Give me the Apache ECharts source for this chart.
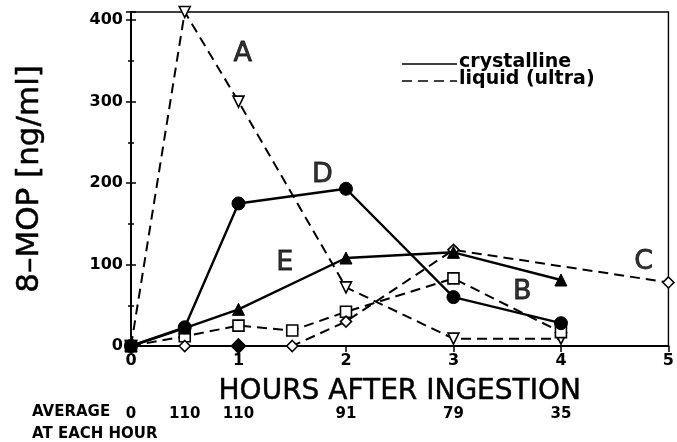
<!DOCTYPE html>
<html>
<head>
<meta charset="utf-8">
<script src="https://cdn.jsdelivr.net/npm/echarts@6/dist/echarts.min.js"></script>
<style>
  html, body { margin: 0; padding: 0; background: #fff; }
  #chart { width: 677px; height: 442px; }
</style>
</head>
<body>
<div id="chart"></div>
<script>
// curve A - liquid, open triangles
var hoursA = [0, 0.5, 1, 2, 3, 4];
var concA = [0, 410, 300, 72, 9, 9];
// curve B - liquid, open squares
var hoursB = [0, 0.5, 1, 1.5, 2, 3, 4];
var concB = [0, 12, 25, 19, 42, 83, 17];
// curve C - liquid, open diamonds
var hoursC = [0, 0.5, 1, 1.5, 2, 3, 5];
var concC = [0, 0, 0, 0, 30, 118, 78];
// curve D - crystalline, filled circles
var hoursD = [0, 0.5, 1, 2, 3, 4];
var concD = [0, 23, 175, 193, 60, 28];
// curve E - crystalline, filled triangles
var hoursE = [0, 0.5, 1, 2, 3, 4];
var concE = [0, 22, 45, 108, 115, 81];

// curve letters
var letterNames = ['A', 'B', 'C', 'D', 'E'];
var letterX = [1.04, 3.64, 4.77, 1.78, 1.43];
var letterY = [358, 66, 103, 210, 102];

// average row under the axis
var avgHours = [0, 0.5, 1, 2, 3, 4];
var avgValues = ['0', '110', '110', '91', '79', '35'];

var yTicks = [0, 100, 200, 300, 400];

function pairs(xs, ys) {
  return xs.map(function (x, i) { return [x, ys[i]]; });
}

var chart = echarts.init(document.getElementById('chart'));

var dashed = {color: '#000', width: 2, type: [10, 6]};
var solid = {color: '#000', width: 2.4};
var openItem = {color: '#fff', borderColor: '#000', borderWidth: 1.6};
var fillItem = {color: '#000', borderColor: '#000', borderWidth: 1};

var dataC = pairs(hoursC, concC).map(function (p) {
  // the point at 1 h is drawn filled in the original
  if (p[0] === 1) return {value: p, symbolSize: 14, itemStyle: {color: '#000', borderColor: '#000', borderWidth: 1.6}};
  return p;
});

var option = {
  backgroundColor: '#fff',
  animation: false,
  grid: {left: 131, right: 4, top: 12, bottom: 96, show: true, borderColor: '#000', borderWidth: 1.4, backgroundColor: 'transparent'},
  xAxis: [{
    type: 'value', min: 0, max: 5, interval: 1,
    axisLine: {show: true, onZero: false, lineStyle: {color: '#000', width: 2}},
    axisTick: {show: true, length: 6, lineStyle: {color: '#000', width: 1.5}},
    splitLine: {show: false},
    axisLabel: {color: '#000', fontFamily: 'DejaVu Sans', fontWeight: 'bold', fontSize: 16, margin: 7},
    name: 'HOURS AFTER INGESTION', nameLocation: 'middle', nameGap: 32,
    nameTextStyle: {color: '#000', fontFamily: 'DejaVu Sans', fontSize: 28, textBorderColor: '#000', textBorderWidth: 0.5}
  }, {
    type: 'value', min: 0, max: 5, interval: 0.5, position: 'bottom',
    axisLine: {show: false}, axisTick: {show: false}, splitLine: {show: false},
    axisLabel: {
      color: '#000', fontFamily: 'DejaVu Sans', fontWeight: 'bold', fontSize: 15, margin: 61,
      formatter: function (v) {
        var i = avgHours.indexOf(v);
        return i >= 0 ? avgValues[i] : '';
      }
    }
  }],
  yAxis: [{
    type: 'value', min: 0, max: 410, interval: 100,
    axisLine: {show: true, lineStyle: {color: '#000', width: 2}},
    axisTick: {show: true, length: 5, lineStyle: {color: '#000', width: 1.5}},
    minorTick: {show: true, splitNumber: 2, length: 3, lineStyle: {color: '#000', width: 1.5}},
    splitLine: {show: false},
    axisLabel: {color: '#000', fontFamily: 'DejaVu Sans', fontWeight: 'bold', fontSize: 16, margin: 8, showMaxLabel: false,
      formatter: function (v) { return yTicks.indexOf(v) >= 0 ? String(v) : ''; }},
    name: '8\u2013MOP [ng/ml]', nameLocation: 'middle', nameGap: 86, nameRotate: 90,
    nameTextStyle: {color: '#000', fontFamily: 'DejaVu Sans', fontSize: 31, textBorderColor: '#000', textBorderWidth: 0.5}
  }, {
    type: 'value', min: 0, max: 410, interval: 100, position: 'left',
    axisLine: {show: false},
    axisTick: {show: true, inside: true, length: 5, lineStyle: {color: '#000', width: 1.5}},
    minorTick: {show: true, splitNumber: 2, length: 3, lineStyle: {color: '#000', width: 1.5}},
    splitLine: {show: false}, axisLabel: {show: false}
  }],
  graphic: [
    {type: 'line', shape: {x1: 402, y1: 64, x2: 457, y2: 64}, style: {stroke: '#000', lineWidth: 1.6}},
    {type: 'line', shape: {x1: 402, y1: 81, x2: 457, y2: 81}, style: {stroke: '#000', lineWidth: 1.6, lineDash: [10, 6]}},
    {type: 'text', left: 459, top: 53, style: {text: 'crystalline', fill: '#000', font: 'bold 19px "DejaVu Sans"'}},
    {type: 'text', left: 459, top: 70, style: {text: 'liquid (ultra)', fill: '#000', font: 'bold 19px "DejaVu Sans"'}},
    {type: 'text', left: 32, top: 405, style: {text: 'AVERAGE', fill: '#000', font: 'bold 15px "DejaVu Sans"'}},
    {type: 'text', left: 32, top: 427, style: {text: 'AT EACH HOUR', fill: '#000', font: 'bold 15px "DejaVu Sans"'}}
  ],
  series: [
    {name: 'A', type: 'line', data: pairs(hoursA, concA), symbol: 'triangle', symbolRotate: 180, symbolSize: 11,
      lineStyle: dashed, itemStyle: openItem, z: 3},
    {name: 'B', type: 'line', data: pairs(hoursB, concB), symbol: 'rect', symbolSize: 11,
      lineStyle: dashed, itemStyle: openItem, z: 3},
    {name: 'C', type: 'line', data: dataC, symbol: 'diamond', symbolSize: 11,
      lineStyle: dashed, itemStyle: openItem, z: 3},
    {name: 'D', type: 'line', data: pairs(hoursD, concD), symbol: 'circle', symbolSize: 13,
      lineStyle: solid, itemStyle: fillItem, z: 4},
    {name: 'E', type: 'line', data: pairs(hoursE, concE), symbol: 'triangle', symbolSize: 12,
      lineStyle: solid, itemStyle: fillItem, z: 4},
    {name: 'letters', type: 'scatter', symbolSize: 0,
      data: letterNames.map(function (n, i) { return {name: n, value: [letterX[i], letterY[i]]}; }),
      label: {show: true, position: 'inside', formatter: '{b}', color: '#000', fontFamily: 'DejaVu Sans', fontSize: 27,
        textBorderColor: '#000', textBorderWidth: 0.8}}
  ]
};

chart.setOption(option);
</script>
</body>
</html>
